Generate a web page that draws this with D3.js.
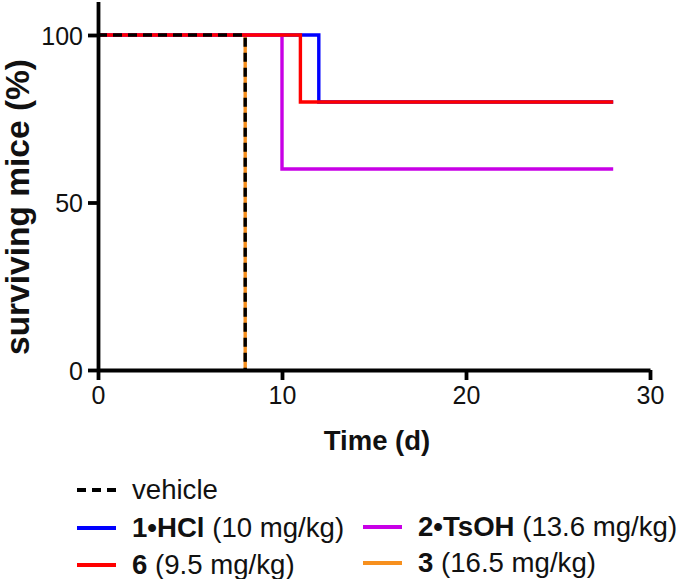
<!DOCTYPE html>
<html><head><meta charset="utf-8">
<script src="https://cdn.jsdelivr.net/npm/d3@7"></script>
<style>html,body{margin:0;padding:0;background:#fff;}svg{display:block;font-family:"Liberation Sans",Arial,sans-serif;}</style>
</head><body>
<svg id="c" width="677" height="579"></svg>
<script>
// ---- data ----
const seriesNames = ["3", "1•HCl", "2•TsOH", "6", "vehicle"];
const seriesDose = ["(16.5 mg/kg)", "(10 mg/kg)", "(13.6 mg/kg)", "(9.5 mg/kg)", ""];
const seriesColors = ["#F7901E", "#0000FF", "#C800E6", "#FF0000", "#000000"];
const timesS3 = [0, 8];        const survS3 = [100, 0];
const timesHCl = [0, 12, 28];  const survHCl = [100, 80, 80];
const timesTsOH = [0, 10, 28]; const survTsOH = [100, 60, 60];
const times6 = [0, 11, 28];    const surv6 = [100, 80, 80];
const timesVeh = [0, 8];       const survVeh = [100, 0];
const xTicks = [0, 10, 20, 30];
const yTicks = [0, 50, 100];

const seriesTimes = [timesS3, timesHCl, timesTsOH, times6, timesVeh];
const seriesSurv = [survS3, survHCl, survTsOH, surv6, survVeh];

const svg = d3.select("#c");
const x = d3.scaleLinear().domain([0, 30]).range([98, 650]);
const y = d3.scaleLinear().domain([0, 110]).range([370, 1.5]);

const line = d3.line().x(d => x(d[0])).y(d => y(d[1])).curve(d3.curveStepAfter);

// series
seriesNames.forEach((n, i) => {
  const pts = seriesTimes[i].map((t, k) => [t, seriesSurv[i][k]]);
  svg.append("path").datum(pts).attr("d", line)
    .attr("fill", "none").attr("stroke", seriesColors[i])
    .attr("stroke-width", 3.4)
    .attr("stroke-dasharray", n === "vehicle" ? "9,6" : null);
});

// axes
const xAxis = svg.append("g").attr("transform", "translate(0,370)")
  .call(d3.axisBottom(x).tickValues(xTicks).tickSize(10).tickSizeOuter(0).tickPadding(6));
const yAxis = svg.append("g").attr("transform", "translate(98,0)")
  .call(d3.axisLeft(y).tickValues(yTicks).tickSize(10).tickSizeOuter(0).tickPadding(5));
[xAxis, yAxis].forEach(g => {
  g.select(".domain").attr("stroke", "#000").attr("stroke-width", 3.8);
  g.selectAll(".tick line").attr("stroke", "#000").attr("stroke-width", 3.8);
  g.selectAll(".tick text").attr("fill", "#111").attr("font-size", 25)
    .attr("font-family", "'Liberation Sans', Arial, sans-serif");
});
yAxis.selectAll(".tick text").attr("dy", "0.36em");

// axis titles
svg.append("text").attr("x", 377).attr("y", 450).attr("text-anchor", "middle")
  .attr("font-size", 27.5).attr("font-weight", "bold").attr("fill", "#111").text("Time (d)");
svg.append("text").attr("transform", "translate(29,207) rotate(-90)").attr("text-anchor", "middle")
  .attr("font-size", 33.5).attr("font-weight", "bold").attr("fill", "#111").text("surviving mice (%)");

// legend
const legendItems = [
  {i: 4, lx: 77, ly: 490},
  {i: 1, lx: 77, ly: 528},
  {i: 2, lx: 363, ly: 527},
  {i: 3, lx: 77, ly: 565},
  {i: 0, lx: 363, ly: 563}
];
legendItems.forEach(it => {
  const g = svg.append("g");
  g.append("line").attr("x1", it.lx).attr("x2", it.lx + 39).attr("y1", it.ly).attr("y2", it.ly)
    .attr("stroke", seriesColors[it.i]).attr("stroke-width", 4)
    .attr("stroke-dasharray", seriesNames[it.i] === "vehicle" ? "9,6" : null);
  const t = g.append("text").attr("x", it.lx + 55).attr("y", it.ly + 9)
    .attr("font-size", 27.6).attr("fill", "#111");
  if (seriesNames[it.i] === "vehicle") {
    t.text("vehicle");
  } else {
    t.append("tspan").attr("font-weight", "bold").text(seriesNames[it.i]);
    t.append("tspan").text(" " + seriesDose[it.i]);
  }
});
</script>
</body></html>
